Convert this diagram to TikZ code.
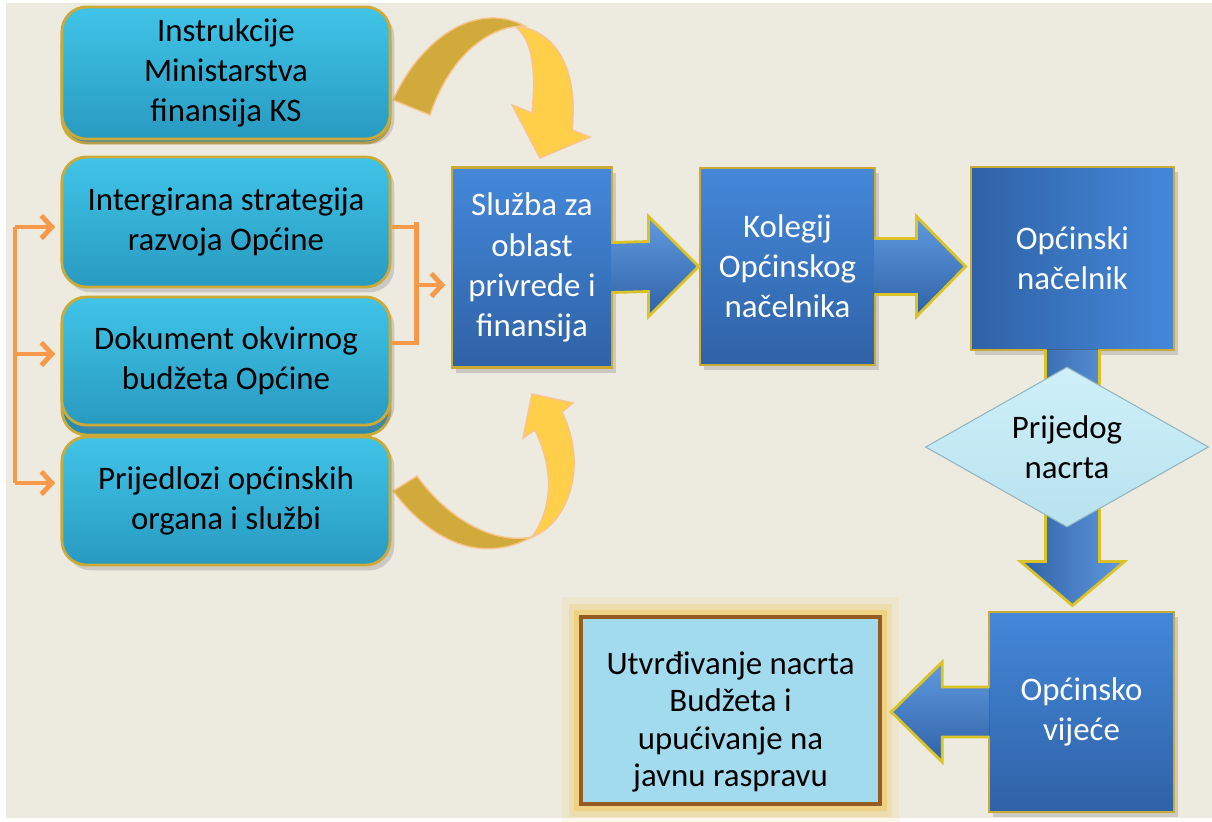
\documentclass[tikz,border=0pt]{standalone}
\usepackage{fontspec}
\setmainfont{Carlito}
\usetikzlibrary{shapes.geometric,arrows.meta,calc,shadows}
\definecolor{BgBeige}{RGB}{237,234,224}
\definecolor{CyanTop}{RGB}{64,196,232}
\definecolor{CyanBot}{RGB}{40,154,192}
\definecolor{CyanLayer}{RGB}{38,140,178}
\definecolor{GoldLine}{RGB}{204,170,56}
\definecolor{BlueTop}{RGB}{68,136,218}
\definecolor{BlueBot}{RGB}{47,98,166}
\definecolor{OrangeLine}{RGB}{247,153,74}
\definecolor{GoldDark}{RGB}{208,170,58}
\definecolor{GoldLight}{RGB}{255,207,74}
\definecolor{ArrowEdge}{RGB}{248,196,140}
\definecolor{IceTop}{RGB}{206,240,249}
\definecolor{IceBot}{RGB}{184,226,239}
\definecolor{SkyBlue}{RGB}{163,219,238}
\definecolor{BrownLine}{RGB}{150,90,35}
\definecolor{GlowGold}{RGB}{240,196,80}

\tikzset{
  cyanbox/.style={draw=GoldLine, line width=0.8pt, top color=CyanTop, bottom color=CyanBot,
    rounded corners=7pt, minimum width=3.28cm, align=center, text=black,
    drop shadow={shadow xshift=1.2pt, shadow yshift=-1.5pt, opacity=0.3}},
  cyanlayer/.style={draw=GoldLine, line width=0.8pt, fill=CyanLayer, rounded corners=7pt},
  bluebox/.style={draw=GoldLine, line width=0.8pt, top color=BlueTop, bottom color=BlueBot,
    align=center, text=white,
    drop shadow={shadow xshift=1.2pt, shadow yshift=-1.5pt, opacity=0.3}},
  blueboxh/.style={draw=GoldLine, line width=0.8pt, left color=BlueBot, right color=BlueTop,
    align=center, text=white,
    drop shadow={shadow xshift=1.2pt, shadow yshift=-1.5pt, opacity=0.3}},
  blockarrow/.style={draw=GoldLine!70!yellow, line width=0.8pt, top color=BlueTop!85!white, bottom color=BlueBot},
  blockarrowv/.style={draw=GoldLine!70!yellow, line width=0.8pt, left color=BlueBot, right color=BlueTop!85!white},
  decision/.style={diamond, aspect=1.77, inner sep=0pt, minimum width=2.83cm, minimum height=1.6cm,
    top color=IceTop, bottom color=IceBot, draw=IceBot!80!black, line width=0.3pt, align=center, text=black},
  resultbox/.style={draw=BrownLine, line width=1.2pt, fill=SkyBlue, align=center, text=black,
    minimum width=2.99cm, minimum height=1.73cm, font=\fontsize{9.35}{10.7}\selectfont,
    preaction={draw=GlowGold, line width=11pt, opacity=0.12, rounded corners=4pt},
    preaction={draw=GlowGold, line width=7pt, opacity=0.25, rounded corners=2pt},
    preaction={draw=GlowGold, line width=4pt, opacity=0.45}},
  orangeline/.style={draw=OrangeLine, line width=1.4pt},
  orangearrow/.style={orangeline, -{Straight Barb[length=3pt,width=6.5pt]}, shorten >=1.5pt},
  curvedark/.style={draw=ArrowEdge, fill=GoldDark, line width=0.4pt},
  curvelight/.style={draw=ArrowEdge, fill=GoldLight, line width=0.4pt}
}

\begin{document}
\begin{tikzpicture}[x=0.01cm, y=-0.01cm, font=\fontsize{9.35}{11.4}\selectfont]
  %背景
  \useasboundingbox (0,0) rectangle (1212,821);
  \fill[BgBeige] (6,3) rectangle (1212,818);

  %黄色弯箭头
  \filldraw[curvelight] (517,28) .. controls (533,42) and (536,72) .. (532,113) -- (512,105)
    -- (540,158) -- (590,137) -- (572,130) .. controls (578,75) and (560,35) .. (522,27) -- cycle;
  \filldraw[curvedark] (393,100) .. controls (420,40) and (475,0) .. (525,26)
    .. controls (490,25) and (450,55) .. (430,115) -- cycle;
  \filldraw[curvelight] (532,537) .. controls (565,525) and (590,470) .. (562,412) -- (573,403)
    -- (532,394) -- (523,438) -- (535,430) .. controls (552,465) and (555,505) .. (532,537) -- cycle;
  \filldraw[curvedark] (393,491) .. controls (430,540) and (480,565) .. (532,537)
    .. controls (490,545) and (445,515) .. (417,476) -- cycle;

  %左侧方框
  \filldraw[cyanlayer] (62,20) rectangle (390,143);
  \filldraw[cyanlayer] (62,307) rectangle (390,435);
  \node[cyanbox, minimum height=1.25cm] (ins) at (226,73) {Instrukcije\\Ministarstva\\finansija KS};
  \node[cyanbox, minimum height=1.30cm] (str) at (226,222) {Intergirana strategija\\razvoja Općine};
  \node[cyanbox, minimum height=1.28cm] (dok) at (226,361) {Dokument okvirnog\\budžeta Općine};
  \node[cyanbox, minimum height=1.28cm] (pri) at (226,501) {Prijedlozi općinskih\\organa i službi};

  %蓝色方框
  \node[bluebox, minimum width=1.60cm, minimum height=2.00cm] (slu) at (532,267.5) {Služba za\\oblast\\privrede i\\finansija};
  \node[bluebox, minimum width=1.75cm, minimum height=1.97cm] (kol) at (787.5,266.5) {Kolegij\\Općinskog\\načelnika};
  \node[blueboxh, minimum width=2.03cm, minimum height=1.83cm] (nac) at (1072.5,258.5) {Općinski\\načelnik};
  \node[bluebox, minimum width=1.85cm, minimum height=2.00cm] (vij) at (1081.5,712) {Općinsko\\vijeće};
  \node[resultbox] (utv) at (730.5,710.5) {\rule{0pt}{13pt}Utvrđivanje nacrta\\Budžeta i\\upućivanje na\\javnu raspravu};

  %橙色连线
  \coordinate (bus) at (15,0);
  \coordinate (s1) at ([yshift=-0.05cm]str.west);
  \coordinate (s2) at ([yshift=0.07cm]dok.west);
  \coordinate (s3) at ([yshift=0.18cm]pri.west);
  \draw[orangeline] (bus |- s1) -- (bus |- s3);
  \draw[orangearrow] (bus |- s1) -- (s1);
  \draw[orangearrow] (bus |- s2) -- (s2);
  \draw[orangearrow] (bus |- s3) -- (s3);
  \coordinate (brk) at ($(str.east)+(25,0)$);
  \coordinate (sin) at ([yshift=-0.175cm]slu.west);
  \draw[orangeline] ([yshift=-0.05cm]str.east) -| (brk) |- ([yshift=0.18cm]dok.east);
  \draw[orangearrow] (brk |- sin) -- (sin);

  %块状箭头
  \filldraw[blockarrow] ($(slu.east)+(-2,-25)$) -- ($(kol.west)+(-50,-25)$) -- ++(0,-25)
    -- (kol.west) -- ($(kol.west)+(-50,50)$) -- ++(0,-25) -- ($(slu.east)+(-2,25)$);
  \filldraw[blockarrow] ($(kol.east)+(-2,-28)$) -- ($(kol.east -| nac.west)+(-53,-28)$) -- ++(0,-22)
    -- ($(kol.east -| nac.west)+(-4,0)$) -- ($(kol.east -| nac.west)+(-53,50)$) -- ++(0,-22)
    -- ($(kol.east)+(-2,28)$);
  \filldraw[blockarrowv] ($(nac.south)+(-27,-2)$) -- ($(nac.south |- vij.north)+(-27,-49)$) -- ++(-25,0)
    -- ($(nac.south |- vij.north)+(0,-5)$) -- ($(nac.south |- vij.north)+(52,-49)$) -- ++(-25,0)
    -- ($(nac.south)+(27,-2)$);
  \filldraw[blockarrow] ($(vij.west)+(2,-25)$) -- ($(vij.west -| utv.east)+(60,-25)$) -- ++(0,-25)
    -- ($(vij.west -| utv.east)+(9,0)$) -- ($(vij.west -| utv.east)+(60,50)$) -- ++(0,-25)
    -- ($(vij.west)+(2,25)$);

  %菱形
  \node[decision] (nacrt) at (1067,447) {Prijedog\\nacrta};
\end{tikzpicture}
\end{document}
